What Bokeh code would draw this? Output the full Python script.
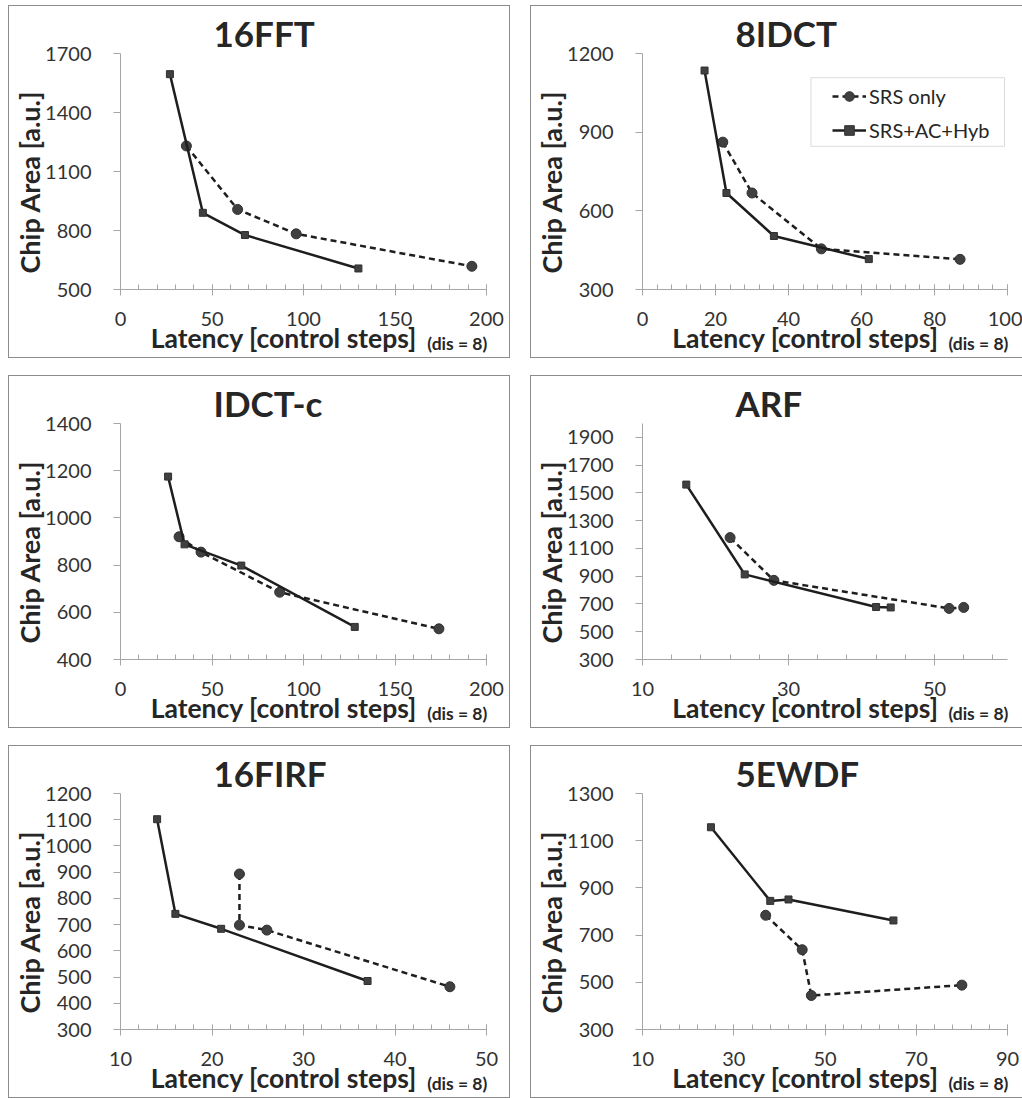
from bokeh.plotting import figure
from bokeh.models import FixedTicker, Legend, LegendItem, BoxAnnotation, Range1d, LinearAxis
from bokeh.layouts import row, column
from bokeh.embed import file_html
from bokeh.resources import INLINE

# ---------------- data ----------------
titles = ["16FFT", "8IDCT", "IDCT-c", "ARF", "16FIRF", "5EWDF"]
series_names = ["SRS only", "SRS+AC+Hyb"]

fft_srs_x = [36, 64, 96, 192]
fft_srs_y = [1230, 907, 783, 618]
fft_hyb_x = [27, 45, 68, 130]
fft_hyb_y = [1595, 890, 777, 607]

idct8_srs_x = [22, 30, 49, 87]
idct8_srs_y = [862, 668, 455, 415]
idct8_hyb_x = [17, 23, 36, 62]
idct8_hyb_y = [1135, 668, 504, 416]

idctc_srs_x = [32, 44, 87, 174]
idctc_srs_y = [920, 855, 685, 530]
idctc_hyb_x = [26, 35, 66, 128]
idctc_hyb_y = [1175, 888, 798, 538]

arf_srs_x = [22, 28, 52, 54]
arf_srs_y = [1178, 870, 668, 675]
arf_hyb_x = [16, 24, 42, 44]
arf_hyb_y = [1560, 913, 678, 675]

firf_srs_x = [23, 23, 26, 46]
firf_srs_y = [893, 698, 679, 463]
firf_hyb_x = [14, 16, 21, 37]
firf_hyb_y = [1102, 741, 684, 485]

ewdf_srs_x = [37, 45, 47, 80]
ewdf_srs_y = [784, 638, 444, 488]
ewdf_hyb_x = [25, 38, 42, 65]
ewdf_hyb_y = [1157, 845, 851, 762]

# axis scales: (start, end, major, minor)
x_scales = [(0, 200, 50, 10), (0, 100, 20, 4), (0, 200, 50, 10),
            (10, 60, 20, 4), (10, 50, 10, 2), (10, 90, 20, 4)]
y_scales = [(500, 1700, 300), (300, 1200, 300), (400, 1400, 200),
            (300, 2000, 200), (300, 1200, 100), (300, 1300, 200)]

x_label = "Latency [control steps]"
x_label_note = "(dis = 8)"
y_label = "Chip Area [a.u.]"

# ---------------- styling / layout ----------------
FONT = "Lato"
AXIS_COLOR = "#a6a6a6"
TEXT_COLOR = "#262626"
TICK_TEXT = "#333333"
LINE_COLOR = "#1e1e1e"
MARK_FILL = "#404040"
BORDER = "1px solid #8c8c8c"
FRAME_L, FRAME_W, FRAME_T, FRAME_H = 111, 364, 47, 234


def text_axis(p, side, tick, text, size, standoff, orientation="horizontal"):
    t = round(tick, 4)
    ax = LinearAxis(ticker=FixedTicker(ticks=[t], minor_ticks=[]),
                    major_label_overrides={t: text},
                    axis_line_color=None, major_tick_line_color=None,
                    minor_tick_line_color=None,
                    major_tick_in=0, major_tick_out=0, minor_tick_in=0, minor_tick_out=0,
                    major_label_standoff=standoff, major_label_text_font=FONT,
                    major_label_text_font_style="bold", major_label_text_font_size=size,
                    major_label_text_color=TEXT_COLOR, major_label_orientation=orientation)
    p.add_layout(ax, side)


def make_panel(i, sx, sy, hx, hy, width, height, legend=False, styles=None):
    xs, xe, xmaj, xmin = x_scales[i]
    ys, ye, ymaj = y_scales[i]
    inner_w = width - (2 if styles is b1 else 1)
    inner_h = height - 2
    p = figure(width=width, height=height, title=titles[i],
               x_range=Range1d(xs, xe), y_range=Range1d(ys, ye),
               output_backend="svg", toolbar_location=None,
               min_border_left=FRAME_L, min_border_right=inner_w - FRAME_L - FRAME_W,
               min_border_top=FRAME_T, min_border_bottom=inner_h - FRAME_T - FRAME_H,
               background_fill_color="white", border_fill_color="white")
    p.outline_line_color = None
    p.xgrid.visible = False
    p.ygrid.visible = False
    p.styles = styles

    fx = lambda px: xs + px / FRAME_W * (xe - xs)
    fy = lambda py: ye - py / FRAME_H * (ye - ys)

    p.title.align = "left"
    p.title.offset = 93
    p.title.standoff = 0
    p.title.vertical_align = "bottom"
    p.title.text_font = FONT
    p.title.text_font_style = "bold"
    p.title.text_font_size = "35px"
    p.title.text_color = TEXT_COLOR

    ax = p.xaxis[0]
    ax.ticker = FixedTicker(ticks=list(range(xs, xe + 1, xmaj)),
                            minor_ticks=list(range(xs, xe + 1, xmin)))
    ax.axis_line_color = AXIS_COLOR
    ax.major_tick_line_color = AXIS_COLOR
    ax.minor_tick_line_color = AXIS_COLOR
    ax.major_tick_in = 5
    ax.major_tick_out = 6
    ax.minor_tick_in = 5
    ax.minor_tick_out = 0
    ax.major_label_standoff = 16
    ax.major_label_text_font = FONT
    ax.major_label_text_font_size = "20px"
    ax.major_label_text_color = TICK_TEXT

    ay = p.yaxis[0]
    ay.ticker = FixedTicker(ticks=list(range(ys, ye + 1, ymaj)), minor_ticks=[])
    ay.axis_line_color = AXIS_COLOR
    ay.major_tick_line_color = AXIS_COLOR
    ay.minor_tick_line_color = None
    ay.major_tick_in = 0
    ay.major_tick_out = 7
    ay.major_label_standoff = 22
    ay.major_label_text_font = FONT
    ay.major_label_text_font_size = "20px"
    ay.major_label_text_color = TICK_TEXT

    # axis titles, drawn as single tick labels of extra (invisible) axes
    text_axis(p, "below", fx(162.5), x_label, "26.5px", -7)
    text_axis(p, "below", fx(335), x_label_note, "17.5px", -24)
    text_axis(p, "left", fy(127.5), y_label, "27px", -4, "vertical")

    l1 = p.line(sx, sy, line_color=LINE_COLOR, line_width=2.5, line_dash="6 4")
    s1 = p.scatter(sx, sy, marker="circle", size=10, fill_color=MARK_FILL,
                   line_color="#303030", line_width=1)
    l2 = p.line(hx, hy, line_color=LINE_COLOR, line_width=2.5)
    s2 = p.scatter(hx, hy, marker="square", size=7, fill_color=MARK_FILL,
                   line_color="#303030", line_width=1)

    if legend:
        p.add_layout(BoxAnnotation(left=fx(168), right=fx(361), top=fy(24), bottom=fy(92),
                                   fill_color="white", fill_alpha=1.0,
                                   line_color="#8c8c8c", line_width=1))
        lg = Legend(items=[LegendItem(label=series_names[0], renderers=[l1, s1]),
                           LegendItem(label=series_names[1], renderers=[l2, s2])],
                    location=(185, FRAME_H - 92), orientation="vertical",
                    padding=5, spacing=10, margin=0,
                    glyph_width=34, glyph_height=24, label_height=24, label_standoff=3,
                    label_text_font=FONT, label_text_font_size="20px",
                    label_text_color=TEXT_COLOR,
                    border_line_alpha=0, background_fill_alpha=0)
        p.add_layout(lg)
    return p


W1, W2, H = 502, 492, 353
b1 = {"border": BORDER}
b2 = {"border-top": BORDER, "border-left": BORDER, "border-bottom": BORDER}

p1 = make_panel(0, fft_srs_x, fft_srs_y, fft_hyb_x, fft_hyb_y, W1, H, styles=b1)
p2 = make_panel(1, idct8_srs_x, idct8_srs_y, idct8_hyb_x, idct8_hyb_y, W2, H, legend=True, styles=b2)
p3 = make_panel(2, idctc_srs_x, idctc_srs_y, idctc_hyb_x, idctc_hyb_y, W1, H, styles=b1)
p4 = make_panel(3, arf_srs_x, arf_srs_y, arf_hyb_x, arf_hyb_y, W2, H, styles=b2)
p5 = make_panel(4, firf_srs_x, firf_srs_y, firf_hyb_x, firf_hyb_y, W1, H, styles=b1)
p6 = make_panel(5, ewdf_srs_x, ewdf_srs_y, ewdf_hyb_x, ewdf_hyb_y, W2, H, styles=b2)

layout = column(row(p1, p2, spacing=20), row(p3, p4, spacing=20), row(p5, p6, spacing=20),
                spacing=17, styles={"position": "absolute", "left": "8px", "top": "5px"})

open("out.html", "w").write(file_html(layout, INLINE))
